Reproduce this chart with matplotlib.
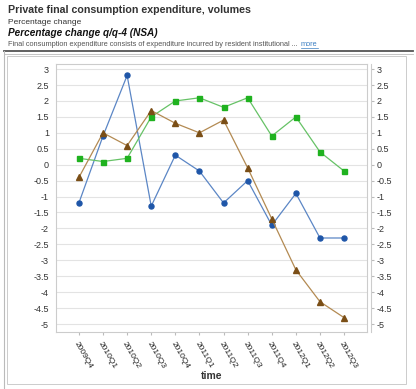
import matplotlib
matplotlib.use("Agg")
import matplotlib.pyplot as plt
from matplotlib.lines import Line2D
from matplotlib.patches import Rectangle

plt.rcParams["font.family"] = ["Liberation Sans", "DejaVu Sans"]

categories = ["2009Q4", "2010Q1", "2010Q2", "2010Q3", "2010Q4", "2011Q1",
              "2011Q2", "2011Q3", "2011Q4", "2012Q1", "2012Q2", "2012Q3"]
blue_vals = [-1.2, 0.9, 2.8, -1.3, 0.3, -0.2, -1.2, -0.5, -1.9, -0.9, -2.3, -2.3]
green_vals = [0.2, 0.1, 0.2, 1.5, 2.0, 2.1, 1.8, 2.1, 0.9, 1.5, 0.4, -0.2]
brown_vals = [-0.4, 1.0, 0.6, 1.7, 1.3, 1.0, 1.4, -0.1, -1.7, -3.3, -4.3, -4.8]
yticks = [3, 2.5, 2, 1.5, 1, 0.5, 0, -0.5, -1, -1.5, -2, -2.5, -3, -3.5, -4, -4.5, -5]
ytick_labels = ["3", "2.5", "2", "1.5", "1", "0.5", "0", "-0.5", "-1", "-1.5", "-2",
                "-2.5", "-3", "-3.5", "-4", "-4.5", "-5"]

W, H = 416, 389
fig = plt.figure(figsize=(W / 100, H / 100), dpi=100)
fig.patch.set_facecolor("white")

def fx(px):
    return px / W

def fy(py):
    return 1 - py / H

# Header texts
fig.text(fx(8), fy(10), "Private final consumption expenditure, volumes", fontsize=7.7,
         fontweight="bold", color="#333333", va="center", ha="left")
fig.text(fx(8), fy(22), "Percentage change", fontsize=6.0, color="#333333", va="center", ha="left")
fig.text(fx(8), fy(33), "Percentage change q/q-4 (NSA)", fontsize=7.2, fontweight="bold",
         fontstyle="italic", color="#111111", va="center", ha="left")
fig.text(fx(8), fy(44), "Final consumption expenditure consists of expenditure incurred by resident institutional ...",
         fontsize=5.3, color="#555555", va="center", ha="left")
fig.text(fx(301), fy(44), "more", fontsize=5.3, color="#3a7ec2", va="center", ha="left")
fig.add_artist(Line2D([fx(301), fx(318)], [fy(47.5), fy(47.5)], color="#3a7ec2", lw=0.5))

# Frame lines
fig.add_artist(Line2D([fx(4), fx(413)], [fy(51), fy(51)], color="#555555", lw=1.3))
fig.add_artist(Line2D([fx(4), fx(413)], [fy(53.5), fy(53.5)], color="#bbbbbb", lw=0.6))
fig.add_artist(Line2D([fx(4), fx(4)], [fy(51), fy(389)], color="#bbbbbb", lw=0.8))
fig.add_artist(Rectangle((fx(7), fy(384)), fx(399), fy(56) - fy(384), fill=False,
                         edgecolor="#cccccc", lw=0.7, transform=fig.transFigure))

ax = fig.add_axes([fx(56), fy(332), fx(367) - fx(56), fy(64) - fy(332)])
x = list(range(len(categories)))

ax.plot(x, blue_vals, color="#5b86c5", lw=0.9, marker="o", ms=3.6,
        mfc="#1f56a8", mec="#1f56a8", zorder=3)
ax.plot(x, green_vals, color="#66c266", lw=0.9, marker="s", ms=3.6,
        mfc="#1fb21f", mec="#1fb21f", zorder=3)
ax.plot(x, brown_vals, color="#b38a52", lw=0.9, marker="^", ms=3.8,
        mfc="#7a4e16", mec="#7a4e16", zorder=3)

ax.set_xlim(-0.95, len(categories) - 0.05)
ax.set_ylim(-5.25, 3.16)
ax.set_yticks(yticks)
ax.set_yticklabels(ytick_labels)
ax.grid(axis="y", color="#e3e3e3", lw=0.8)
ax.set_axisbelow(True)
for s in ax.spines.values():
    s.set_color("#cccccc")
    s.set_linewidth(0.8)
ax.tick_params(axis="y", length=0, labelsize=6.5, labelcolor="#333333", pad=5)
ax.tick_params(axis="x", length=2, color="#bbbbbb", labelsize=6, labelcolor="#222222", pad=4)
ax.set_xticks(x)
ax.set_xticklabels(categories, rotation=-60, ha="left", va="top", rotation_mode="anchor")
ax.set_xlabel("time", fontsize=7.5, fontweight="bold", color="#333333", labelpad=1)

ax2 = ax.twinx()
ax2.set_ylim(ax.get_ylim())
ax2.set_yticks(yticks)
ax2.set_yticklabels(ytick_labels)
ax2.spines["right"].set_position(("outward", 3))
for k in ["top", "left", "bottom"]:
    ax2.spines[k].set_visible(False)
ax2.spines["right"].set_color("#cccccc")
ax2.spines["right"].set_linewidth(0.8)
ax2.tick_params(axis="y", length=2, color="#bbbbbb", labelsize=6.5, labelcolor="#333333", pad=2)

fig.savefig("out.png", dpi=100)
